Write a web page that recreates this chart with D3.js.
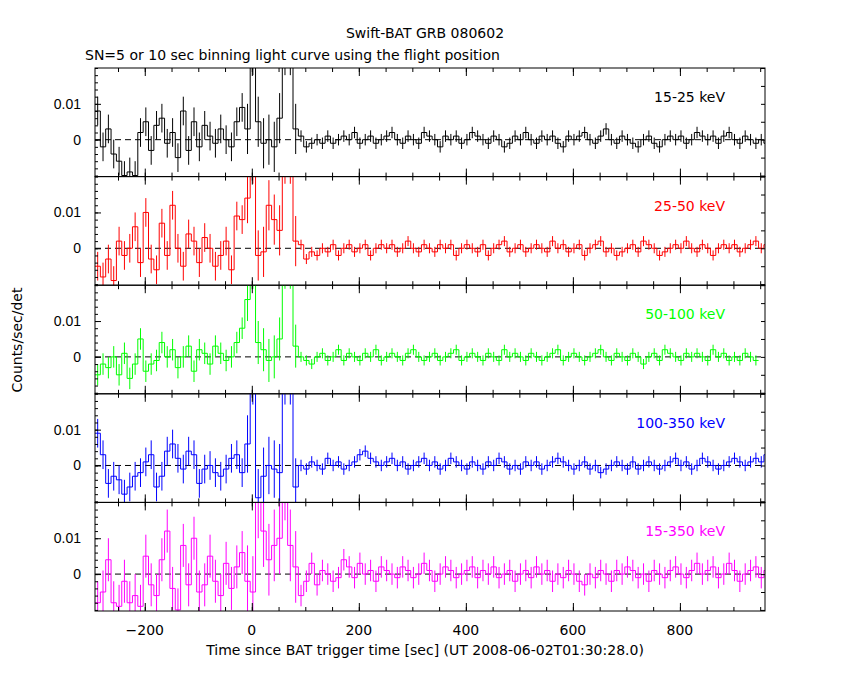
<!DOCTYPE html>
<html><head><meta charset="utf-8">
<script src="https://cdn.jsdelivr.net/npm/d3@7"></script>
<style>body{margin:0;background:#fff}svg{font-family:"DejaVu Sans",sans-serif}</style>
</head><body><svg id="c" width="850" height="680"></svg>
<script>
// values in units of 1e-3 counts/sec/det; bins of 10 s starting at t0
const t0 = -293, binWidth = 10;
const bands = ["15-25 keV","25-50 keV","50-100 keV","100-350 keV","15-350 keV"];
const colors = ["#000000","#ff0000","#00ff00","#0000ff","#ff00ff"];
const band1 = [8,-2,3,-4,-6,-10,-9,-10,2,5,-3,4,6,-1,2,-5,8,-3,5,-2,4,1,-1,3,0,-2,5,9,3,25,5,-1,0,-2,6,25,25,3,1,-2,-1,0,-1,1,-1,0,1,0,2,-1,0,1,-1,0,1,2,0,-1,1,0,-1,2,1,0,-2,1,0,1,-1,0,2,1,0,-1,1,0,-2,-1,1,0,2,0,-1,1,0,1,-1,-2,1,0,1,2,0,-1,1,3,0,-1,1,0,-1,-2,0,1,-1,-2,0,1,0,1,-1,0,2,1,0,1,-1,1,2,0,-1,1,0,-1,0,-1];
const band2 = [-5,-8,-3,-9,2,-2,0,6,-4,10,-3,-6,7,-2,12,0,-5,4,2,-4,3,0,-5,-2,2,-6,9,8,14,25,-2,-1,12,8,5,25,25,2,1,-3,-1,-2,0,-1,1,-2,0,1,-1,0,1,-2,0,1,0,1,-1,0,2,0,-1,1,0,-1,1,0,1,-2,0,1,0,-1,1,-2,0,1,2,-1,0,1,-1,0,1,0,-1,2,0,1,-1,0,1,-2,0,1,2,-1,0,-2,-1,0,1,-1,2,1,0,-2,-1,0,1,0,2,0,-1,1,0,-2,0,1,0,1,-1,0,1,2,0,1];
const band3 = [-5,-2,-3,0,-5,1,-6,-2,5,-4,-2,-1,4,0,2,-3,0,3,-4,2,1,-2,3,1,-1,0,4,8,16,25,4,2,-1,0,5,25,25,3,0,-1,-2,0,1,-1,0,2,-1,1,0,-1,1,0,2,-1,0,1,0,-1,1,2,0,-1,0,1,-1,0,1,2,-1,0,1,0,-1,1,0,-1,2,0,1,0,-1,1,0,-1,0,1,2,-1,0,1,0,-1,0,1,2,0,-1,1,0,-1,1,0,-2,0,1,-1,2,1,0,-1,1,0,1,0,-1,2,0,1,-1,0,-1,1,0,-1];
const band4 = [9,3,-5,-3,-4,-8,-6,-3,-2,1,3,-6,-3,4,6,2,-1,4,3,-5,-1,0,-2,-3,-1,2,3,-2,6,25,-9,-3,0,-1,-2,25,25,-6,0,-1,1,0,-1,2,0,1,-1,0,1,3,4,2,1,0,1,2,0,1,-1,0,1,2,0,1,-1,0,2,1,0,-1,1,0,-1,1,0,2,1,-1,0,-1,1,0,1,-1,0,1,2,1,0,-1,0,1,-1,0,-2,-1,0,1,0,-1,1,-1,0,1,0,-1,0,1,2,0,1,-1,0,2,1,0,-1,0,1,2,1,0,1,2,1,3,4];
const band5 = [-8,-5,4,-8,-9,-2,-8,-6,-9,5,-3,-6,4,12,-4,-10,8,-3,10,-5,-3,5,-2,-6,3,-4,2,6,-2,-5,20,12,4,8,10,25,8,2,-6,-2,3,-3,1,0,-2,-1,4,2,-1,3,0,1,-2,2,1,0,-1,2,1,-1,0,3,1,-2,0,2,1,-1,0,1,2,-1,1,0,2,-1,0,1,-2,0,1,-1,2,0,1,-2,0,-1,1,0,-2,-3,0,-1,1,0,-2,1,0,2,1,-1,0,-2,1,0,-1,1,2,0,-1,1,3,0,1,2,-1,0,3,1,-2,0,1,2,-1,1,2];
const seriesList = [band1,band2,band3,band4,band5];
// error segments: [start time, error]
const errSeg = [
 [[-293,4],[-20,7],[80,1.6]],
 [[-293,4],[-20,7],[80,1.4]],
 [[-293,3],[-20,6],[80,1.4]],
 [[-293,4],[-20,8],[80,1.6]],
 [[-293,6],[-20,10],[80,3]]];
const xTicks = [-200,0,200,400,600,800];
const yTicks = [0,0.01];

const svg = d3.select("#c");
const L=95,R=765,T=68,panelH=108.6;
const x = d3.scaleLinear().domain([-293,959]).range([L,R]);
const defs = svg.append("defs");
seriesList.forEach((vals,p)=>{
  const top=T+p*panelH, bot=top+panelH;
  const y=d3.scaleLinear().domain([-0.0103,0.02]).range([bot,top]);
  defs.append("clipPath").attr("id","cp"+p).append("rect").attr("x",L).attr("y",top).attr("width",R-L).attr("height",panelH);
  const g=svg.append("g").attr("clip-path","url(#cp"+p+")");
  g.append("line").attr("x1",L).attr("x2",R).attr("y1",y(0)).attr("y2",y(0)).attr("stroke","#000").attr("stroke-dasharray","6,4");
  const errOf=t=>{let e=errSeg[p][0][1];errSeg[p].forEach(s=>{if(t>=s[0])e=s[1];});return e*1e-3;};
  let d="";
  vals.forEach((v,i)=>{
    const a=t0+i*binWidth,b=a+binWidth,yy=y(v*1e-3);
    d+=(i===0?"M":"L")+x(a)+","+yy+"L"+x(b)+","+yy;
    const m=(a+b)/2,e=errOf(a);
    g.append("line").attr("x1",x(m)).attr("x2",x(m)).attr("y1",y(v*1e-3-e)).attr("y2",y(v*1e-3+e)).attr("stroke",colors[p]);
  });
  g.append("path").attr("d",d).attr("fill","none").attr("stroke",colors[p]);
  svg.append("rect").attr("x",L).attr("y",top).attr("width",R-L).attr("height",panelH).attr("fill","none").attr("stroke","#000");
  const ax=svg.append("g").attr("transform","translate("+L+",0)").call(d3.axisLeft(y).tickValues(yTicks).tickFormat(d=>d===0?"0":"0.01").tickSize(-6).tickPadding(14));
  ax.select(".domain").remove();
  ax.selectAll("text").attr("font-size",14).attr("fill","#000");
  svg.append("g").attr("transform","translate("+R+",0)").call(d3.axisRight(y).tickValues(d3.range(-0.01,0.0201,0.005)).tickFormat("").tickSize(-4)).select(".domain").remove();
  svg.append("g").attr("transform","translate("+L+",0)").call(d3.axisLeft(y).tickValues(d3.range(-0.01,0.0201,0.002)).tickFormat("").tickSize(-3)).select(".domain").remove();
  const xa=svg.append("g").attr("transform","translate(0,"+bot+")").call(d3.axisTop(x).tickValues(xTicks).tickFormat("").tickSize(8));
  xa.select(".domain").remove();
  svg.append("g").attr("transform","translate(0,"+bot+")").call(d3.axisTop(x).tickValues(d3.range(-250,951,50)).tickFormat("").tickSize(4)).select(".domain").remove();
  svg.append("g").attr("transform","translate(0,"+top+")").call(d3.axisBottom(x).tickValues(xTicks).tickFormat("").tickSize(8)).select(".domain").remove();
  svg.append("g").attr("transform","translate(0,"+top+")").call(d3.axisBottom(x).tickValues(d3.range(-250,951,50)).tickFormat("").tickSize(4)).select(".domain").remove();
  svg.append("text").attr("x",725).attr("y",top+34).attr("text-anchor","end").attr("font-size",14).attr("fill",colors[p]).text(bands[p]);
});
const bottom=T+5*panelH;
svg.append("g").attr("transform","translate(0,"+bottom+")").selectAll("text").data(xTicks).join("text")
  .attr("x",d=>x(d)).attr("y",24).attr("text-anchor","middle").attr("font-size",14).text(d=>d<0?"\u2212"+(-d):d);
svg.append("text").attr("x",425).attr("y",655).attr("text-anchor","middle").attr("font-size",14).text("Time since BAT trigger time [sec] (UT 2008-06-02T01:30:28.0)");
svg.append("text").attr("transform","translate(22,340) rotate(-90)").attr("text-anchor","middle").attr("font-size",14).text("Counts/sec/det");
svg.append("text").attr("x",425).attr("y",38).attr("text-anchor","middle").attr("font-size",14).text("Swift-BAT GRB 080602");
svg.append("text").attr("x",85).attr("y",60).attr("font-size",14).text("SN=5 or 10 sec binning light curve using the flight position");
</script></body></html>
